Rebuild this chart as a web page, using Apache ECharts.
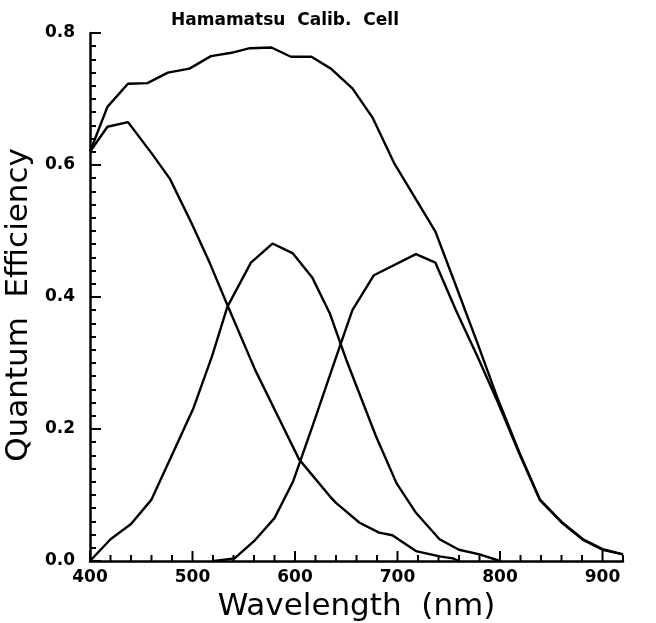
<!DOCTYPE html>
<html>
<head>
<meta charset="utf-8">
<script src="https://cdn.jsdelivr.net/npm/echarts@6/dist/echarts.min.js"></script>
<style>
  html, body { margin: 0; padding: 0; background: #fff; }
  #chart { width: 656px; height: 623px; }
</style>
</head>
<body>
<div id="chart"></div>
<script>
// Quantum efficiency of the Hamamatsu calibration cell: three colour channels and their sum.
// Each point is [wavelength in nm, quantum efficiency].
const qeBlue = [
  [400, 0.620], [417, 0.658], [437, 0.665], [460, 0.618], [478, 0.579],
  [499, 0.512], [517, 0.451], [534, 0.388], [561, 0.290], [585, 0.214],
  [604, 0.154], [634, 0.098], [640, 0.088], [663, 0.058], [682, 0.043],
  [695, 0.039], [718, 0.015], [741, 0.007], [754, 0.004], [760, 0.000]
];
const qeGreen = [
  [400, 0.000], [420, 0.033], [440, 0.056], [460, 0.093], [481, 0.164],
  [501, 0.232], [519, 0.310], [534, 0.385], [557, 0.452], [578, 0.481],
  [598, 0.466], [617, 0.429], [634, 0.375], [650, 0.305], [679, 0.189],
  [699, 0.118], [718, 0.073], [741, 0.033], [760, 0.017], [780, 0.010],
  [800, 0.000]
];
const qeRed = [
  [521, 0.000], [541, 0.004], [560, 0.030], [580, 0.065], [598, 0.120],
  [617, 0.204], [637, 0.295], [656, 0.380], [677, 0.433], [718, 0.465],
  [737, 0.452], [757, 0.380], [778, 0.310], [798, 0.240], [819, 0.162],
  [839, 0.092], [861, 0.057], [881, 0.032], [900, 0.017], [920, 0.010]
];
const qeTotal = [
  [400, 0.620], [417, 0.688], [437, 0.723], [456, 0.724], [476, 0.740],
  [497, 0.746], [518, 0.765], [538, 0.770], [556, 0.777], [577, 0.778],
  [596, 0.764], [616, 0.764], [635, 0.746], [656, 0.716], [676, 0.671],
  [697, 0.602], [737, 0.499], [757, 0.417], [778, 0.330], [798, 0.245],
  [819, 0.164], [839, 0.093], [861, 0.058], [881, 0.033], [900, 0.018],
  [920, 0.010]
];

// Axis ranges and tick spacing
const xRange = [400, 920];
const xMajorStep = 100;
const xMinorStep = 20;
const yRange = [0, 0.8];
const yMajorStep = 0.2;
const yMinorStep = 0.02;

// Wavelength tick marks: [value, isMajor]
const xTicks = [];
for (let v = xRange[0]; v <= xRange[1]; v += xMinorStep) {
  xTicks.push([v, v % xMajorStep === 0 ? 1 : 0]);
}

const chart = echarts.init(document.getElementById('chart'), null, { renderer: 'canvas' });

const ink = '#000';
const labelFont = { fontFamily: 'DejaVu Sans', fontWeight: 'bold', fontSize: 17, color: ink };

const lineSeries = (name, data) => ({
  name: name,
  type: 'line',
  data: data,
  xAxisIndex: 0,
  yAxisIndex: 0,
  showSymbol: false,
  symbol: 'none',
  smooth: false,
  lineStyle: { color: ink, width: 2.4 },
  z: 3
});

chart.setOption({
  animation: false,
  backgroundColor: '#fff',
  title: {
    text: 'Hamamatsu  Calib.  Cell',
    left: 171,
    top: 12,
    padding: 0,
    textStyle: { fontFamily: 'DejaVu Sans', fontWeight: 'bold', fontSize: 17, color: ink }
  },
  grid: { left: 90, top: 33, right: 33, bottom: 62, outerBoundsMode: 'none' },
  xAxis: {
    type: 'value',
    min: xRange[0],
    max: xRange[1],
    interval: xMajorStep,
    name: 'Wavelength  (nm)',
    nameLocation: 'middle',
    nameGap: 30,
    nameTextStyle: { fontFamily: 'DejaVu Sans', fontSize: 31, color: ink },
    axisLine: { show: true, onZero: false, lineStyle: { color: ink, width: 2.5 } },
    axisTick: { show: false },
    axisLabel: Object.assign({
      show: true, margin: 8,
      formatter: v => (v % xMajorStep === 0 ? String(v) : '')
    }, labelFont),
    splitLine: { show: false }
  },
  yAxis: [
    {
      type: 'value',
      min: yRange[0],
      max: yRange[1],
      interval: yMajorStep,
      name: 'Quantum  Efficiency',
      nameLocation: 'middle',
      nameGap: 46,
      nameTextStyle: { fontFamily: 'DejaVu Sans', fontSize: 31, color: ink, padding: [0, 16, 0, 0] },
      axisLine: { show: true, onZero: false, lineStyle: { color: ink, width: 2.5 } },
      axisTick: { show: true, inside: true, length: 11, lineStyle: { color: ink, width: 2 } },
      axisLabel: Object.assign({ show: true, margin: 15, formatter: v => v.toFixed(1) }, labelFont),
      splitLine: { show: false }
    },
    {
      // short ticks every 0.02
      type: 'value',
      min: yRange[0],
      max: yRange[1],
      interval: yMinorStep,
      position: 'left',
      axisLine: { show: false, onZero: false },
      axisTick: { show: true, inside: true, length: 6, lineStyle: { color: ink, width: 2 } },
      axisLabel: { show: false },
      splitLine: { show: false }
    }
  ],
  series: [
    lineSeries('Total', qeTotal),
    lineSeries('Blue', qeBlue),
    lineSeries('Green', qeGreen),
    lineSeries('Red', qeRed),
    {
      // wavelength ticks standing up from the baseline
      name: 'wavelength ticks',
      type: 'custom',
      data: xTicks,
      xAxisIndex: 0,
      yAxisIndex: 0,
      encode: { x: 0 },
      clip: false,
      silent: true,
      z: 4,
      renderItem: (params, api) => {
        const base = api.coord([api.value(0), yRange[0]]);
        const len = api.value(1) ? 10 : 6;
        return {
          type: 'line',
          shape: { x1: base[0], y1: base[1], x2: base[0], y2: base[1] - len },
          style: { stroke: ink, lineWidth: 2 }
        };
      }
    }
  ]
});
</script>
</body>
</html>
